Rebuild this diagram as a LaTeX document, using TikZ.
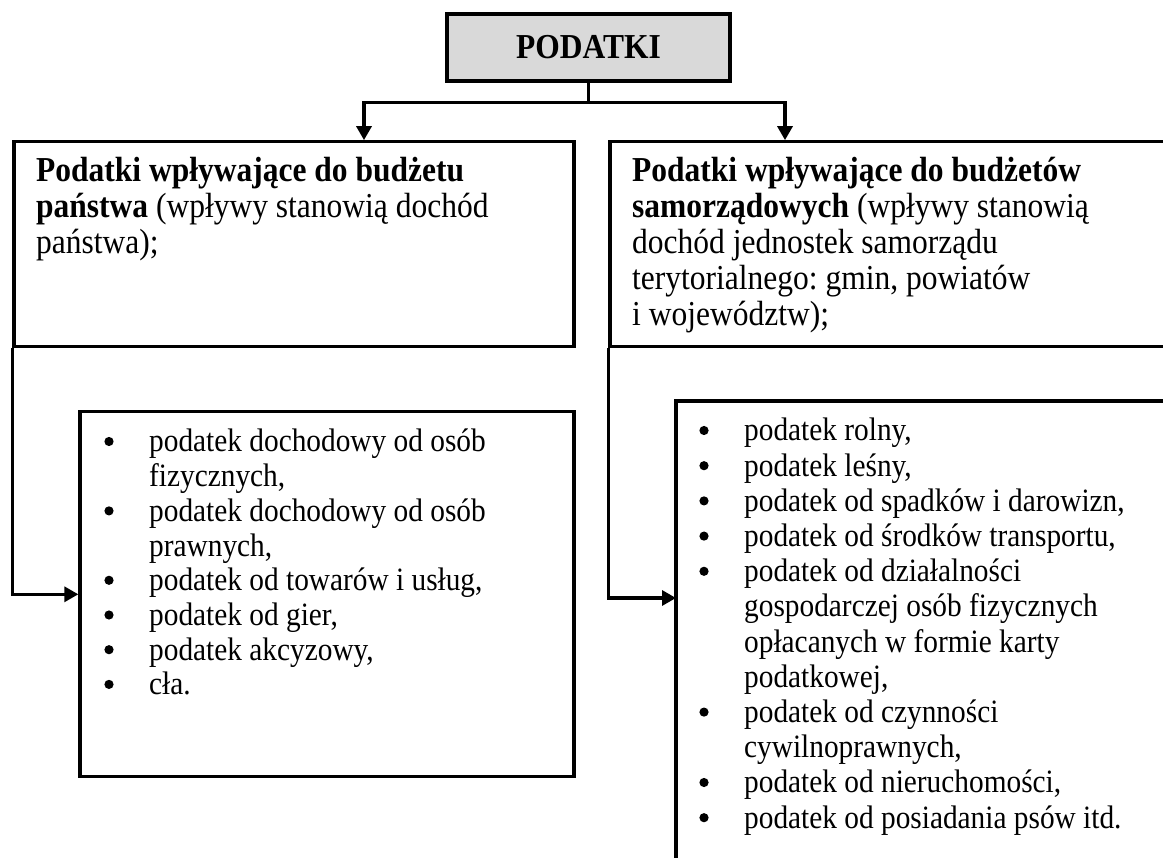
\documentclass[tikz,border=0pt]{standalone}
\usepackage{fontspec}
\setmainfont{Liberation Serif}[FakeStretch=0.9]
\frenchspacing
\usetikzlibrary{arrows.meta}
\definecolor{boxgray}{RGB}{217,217,217}
\tikzset{
  box/.style={draw=black, line width=3.3pt, rectangle, inner sep=0pt},
  txt/.style={anchor=base west, inner sep=0pt},
  conn/.style={draw=black, line width=3.3pt},
  arr/.style={conn, -{Triangle[width=15pt,length=14pt]}},
  headfont/.style={font=\fontsize{35}{36}\selectfont},
  lfont/.style={font=\fontsize{32.6}{34.7}\selectfont},
  rfont/.style={font=\fontsize{32.6}{35.2}\selectfont},
  dot/.style={circle, fill=black, inner sep=0pt, minimum size=9.2pt},
}
\begin{document}
\begin{tikzpicture}[x=1pt,y=-1pt]
\useasboundingbox (0,0) rectangle (1163,858);
\clip (0,0) rectangle (1163,858);
% boxes
\node[box, fill=boxgray, minimum width=283pt, minimum height=67pt, headfont] (top) at (588.5,47.5) {\bfseries PODATKI};
\node[box, minimum width=560pt, minimum height=205pt] (lu) at (294,244.3) {};
\node[box, minimum width=590pt, minimum height=205pt] (ru) at (905,244.3) {};
\node[box, minimum width=494pt, minimum height=365pt] (ll) at (327,594.3) {};
\node[box, minimum width=524pt, minimum height=499pt] (lr) at (938,650.5) {};
% texts
\node[txt, headfont] (lut) at (36,182) {\begin{tabular}[t]{@{}l@{}}
\textbf{Podatki wpływające do budżetu}\\
\textbf{państwa} (wpływy stanowią dochód\\
państwa);
\end{tabular}};
\node[txt, headfont] (rut) at (632,182) {\begin{tabular}[t]{@{}l@{}}
\textbf{Podatki wpływające do budżetów}\\
\textbf{samorządowych} (wpływy stanowią\\
dochód jednostek samorządu\\
terytorialnego: gmin, powiatów\\
i województw);
\end{tabular}};
\node[txt, lfont] (llt) at (149,452) {\begin{tabular}[t]{@{}l@{}}
podatek dochodowy od osób\\
fizycznych,\\
podatek dochodowy od osób\\
prawnych,\\
podatek od towarów i usług,\\
podatek od gier,\\
podatek akcyzowy,\\
cła.
\end{tabular}};
\node[txt, rfont] (lrt) at (744,441) {\begin{tabular}[t]{@{}l@{}}
podatek rolny,\\
podatek leśny,\\
podatek od spadków i darowizn,\\
podatek od środków transportu,\\
podatek od działalności\\
gospodarczej osób fizycznych\\
opłacanych w formie karty\\
podatkowej,\\
podatek od czynności\\
cywilnoprawnych,\\
podatek od nieruchomości,\\
podatek od posiadania psów itd.
\end{tabular}};
% bullets
\foreach \i in {0,2,4,5,6,7} \node[dot] at (109,452+34.7*\i-10.5) {};
\foreach \i in {0,1,2,3,4,8,10,11} \node[dot] at (704,441+35.2*\i-10.5) {};
% connectors
\coordinate (jl) at (364,102.7);
\coordinate (jr) at (785,102.7);
\coordinate (rin) at (676,598);
\draw[arr] (top.south) |- (jl) -- (jl |- lu.north);
\draw[arr] (top.south) |- (jr) -- (jr |- ru.north);
\draw[arr] (lu.south west) |- (ll.west);
\draw[arr] (ru.south west) |- (rin);
\end{tikzpicture}
\end{document}
